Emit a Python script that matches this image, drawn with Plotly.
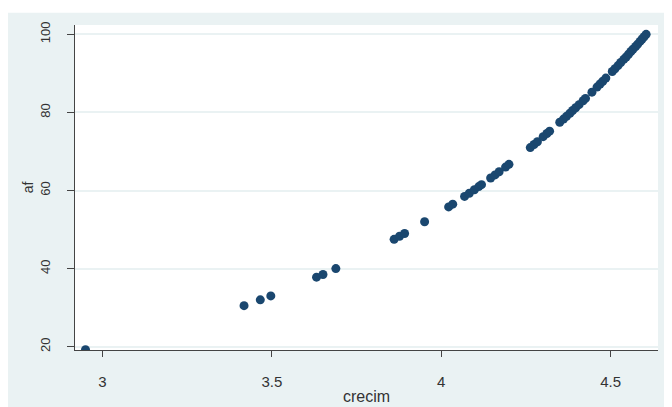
import plotly.graph_objects as go

crecim = [2.95, 3.418, 3.466, 3.497, 3.632, 3.651, 3.689, 3.861, 3.877, 3.892, 3.951,
          4.022, 4.034, 4.069, 4.083, 4.098, 4.111, 4.119, 4.146, 4.159, 4.171, 4.190, 4.200,
          4.263, 4.274, 4.284, 4.301, 4.312, 4.320, 4.350, 4.361, 4.370, 4.380, 4.388, 4.397,
          4.407, 4.419, 4.426, 4.445, 4.460, 4.469, 4.477, 4.486, 4.505, 4.513, 4.522, 4.530,
          4.539, 4.546, 4.553, 4.560, 4.566, 4.574, 4.580, 4.587, 4.593, 4.599, 4.605]
af = [19.2, 30.5, 32.0, 33.0, 37.8, 38.5, 40.0, 47.5, 48.3, 49.0, 52.0,
      55.8, 56.5, 58.5, 59.3, 60.2, 61.0, 61.5, 63.2, 64.0, 64.8, 66.0, 66.7,
      71.0, 71.8, 72.5, 73.8, 74.6, 75.2, 77.5, 78.3, 79.0, 79.8, 80.5, 81.2,
      82.0, 83.0, 83.6, 85.2, 86.5, 87.3, 88.0, 88.8, 90.5, 91.2, 92.0, 92.8,
      93.6, 94.2, 94.9, 95.6, 96.2, 96.9, 97.5, 98.2, 98.8, 99.4, 100.0]

x_ticks = [3, 3.5, 4, 4.5]
y_ticks = [20, 40, 60, 80, 100]

BG = "#EAF2F3"
FAM = "Liberation Sans, Arial, sans-serif"
COL = "#333333"

fig = go.Figure(go.Scatter(
    x=crecim, y=af, mode="markers",
    marker=dict(color="#1a476f", size=9, line=dict(width=0)),
    showlegend=False,
))

fig.update_layout(
    width=672, height=407,
    margin=dict(l=67, r=22, t=17, b=65),
    paper_bgcolor=BG, plot_bgcolor="white",
    font=dict(family=FAM, size=14, color=COL),
    xaxis=dict(
        range=[2.919, 4.64], tickvals=x_ticks, ticktext=["3", "3.5", "4", "4.5"],
        tickfont=dict(family=FAM, size=15, color=COL),
        showgrid=False, zeroline=False, showline=True, linecolor="#444444", linewidth=1,
        ticks="outside", ticklen=6, tickcolor="#444444", automargin=False,
        ticklabelstandoff=12,
        title=dict(text="crecim", standoff=1, font=dict(family=FAM, size=16, color=COL)),
    ),
    yaxis=dict(
        range=[19.15, 102.4], tickvals=y_ticks, tickangle=-90,
        tickfont=dict(family=FAM, size=13, color=COL),
        showgrid=True, gridcolor=BG, gridwidth=1.5, zeroline=False,
        showline=True, linecolor="#444444", linewidth=1,
        ticks="outside", ticklen=7, tickcolor="#444444", automargin=False,
        ticklabelstandoff=12,
        title=dict(text="af", standoff=0, font=dict(family=FAM, size=14, color=COL)),
    ),
    shapes=[
        dict(type="rect", xref="paper", yref="paper", x0=-0.2, x1=1.1, y0=1.038, y1=1.2,
             fillcolor="white", line=dict(width=0), layer="below"),
    ],
)

fig.write_html("out.html")
